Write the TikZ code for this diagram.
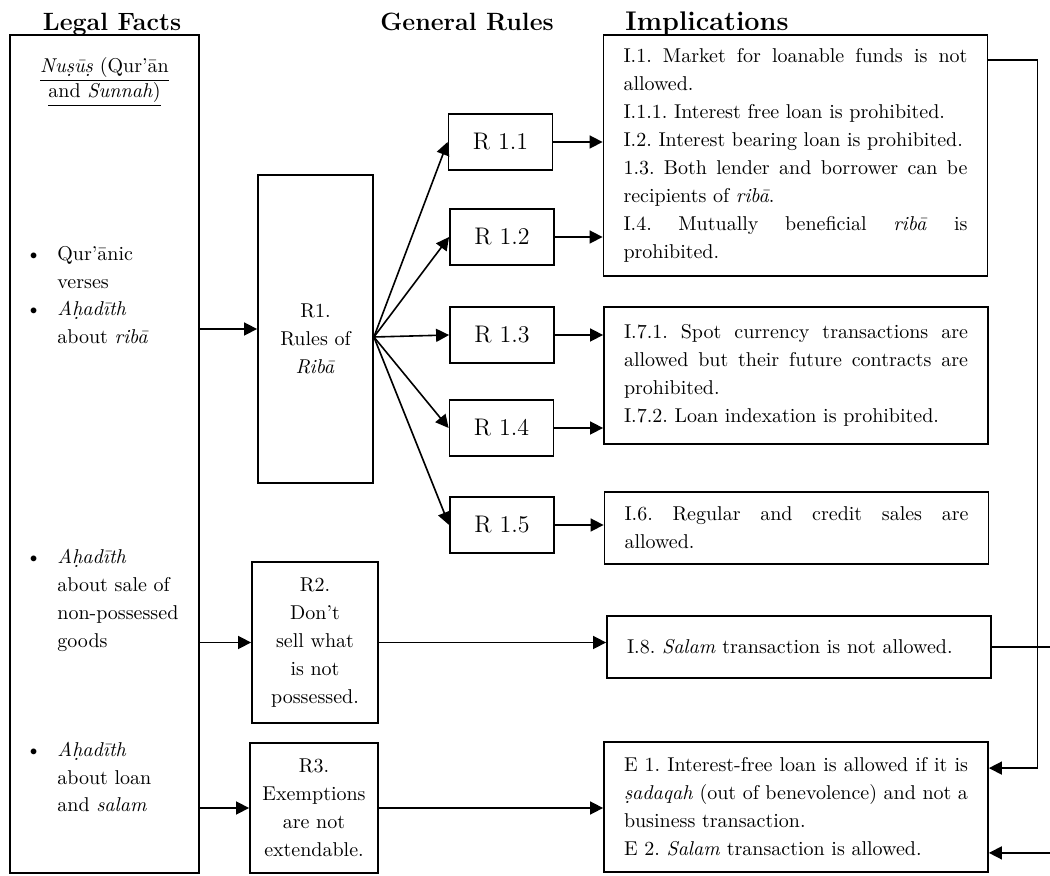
\documentclass[tikz,border=0pt]{standalone}
\usepackage{tikz}
\usetikzlibrary{arrows.meta, positioning, calc}

\newlength{\impltw}
\setlength{\impltw}{172pt}
% full-width line with stretched spaces
\newcommand{\spreadline}[1]{\makebox[\impltw][s]{\spaceskip=0pt \xspaceskip=0pt #1}}

\begin{document}
\begin{tikzpicture}[
    x=0.5pt, y=-0.5pt,
    factbox/.style={rectangle, draw=black, line width=0.9pt, minimum width=94.5pt, minimum height=419pt},
    rulebox/.style={rectangle, draw=black, line width=0.9pt, align=center, inner sep=2pt, font=\fontsize{10}{14}\selectfont\frenchspacing},
    subrule/.style={rectangle, draw=black, line width=0.9pt, minimum width=52pt, minimum height=28pt, font=\large},
    implbox/.style={rectangle, draw=black, line width=0.9pt, text width=\impltw, inner xsep=10pt, inner ysep=3pt, align=left, font=\fontsize{10}{14}\selectfont\frenchspacing},
    head/.style={anchor=base, font=\fontsize{12.5}{14}\selectfont\bfseries},
    factitem/.style={anchor=base west, text width=68pt, align=left, inner sep=0pt, font=\fontsize{10}{14}\selectfont},
    arrow/.style={-{Triangle[length=6.5pt, width=6.5pt]}, line width=0.8pt},
  ]
  \useasboundingbox (0,0) rectangle (1050,876);

  % Headings
  \node[head] (hfacts) at (112,31) {Legal Facts};
  \node[head] (hrules) at (467,31) {General Rules};
  \node[head, font=\fontsize{13.5}{15}\selectfont\bfseries] (himpl) at (707,31) {Implications};

  % Legal facts column
  \node[factbox] (facts) at (104.5,454) {};
  \node[factitem, anchor=base, text width=80pt, align=center] (nusus) at (104.5,73)
    {\underline{\textit{Nu\d{s}\=u\d{s}} (Qur'\=an}\\[-1.5pt]\underline{and \textit{Sunnah})}};
  \node[factitem] (quran) at (57,261) {\llap{\textbullet\hspace{8pt}}Qur'\=anic\\verses};
  \node[factitem] (hadriba) at (57,316) {\llap{\textbullet\hspace{8pt}}\textit{A\d{h}ad\=\i th}\\about \textit{rib\=a}};
  \node[factitem] (hadsale) at (57,564) {\llap{\textbullet\hspace{8pt}}\textit{A\d{h}ad\=\i th}\\about sale of\\non-possessed\\goods};
  \node[factitem] (hadloan) at (57,756) {\llap{\textbullet\hspace{8pt}}\textit{A\d{h}ad\=\i th}\\about loan\\and \textit{salam}};

  % General rules
  \node[rulebox, minimum width=57.5pt, minimum height=154pt, text width=53pt, text height=16.8pt] (r1) at (315.5,329) {R1.\\Rules of\\\textit{Rib\=a}};
  \node[subrule] (r11) at (500.5,142) {R 1.1};
  \node[subrule] (r12) at (502,237) {R 1.2};
  \node[subrule] (r13) at (502,335) {R 1.3};
  \node[subrule] (r14) at (501.5,428) {R 1.4};
  \node[subrule] (r15) at (502,525) {R 1.5};
  \node[rulebox, minimum width=63pt, minimum height=80.5pt] (r2) at (315,642.5) {R2.\\Don't\\sell what\\is not\\possessed.};
  \node[rulebox, minimum width=64pt, minimum height=65pt] (r3) at (314,808) {R3.\\Exemptions\\are not\\extendable.};

  % Implications
  \node[implbox, minimum height=120.5pt] (i1) at (795.5,155.5) {%
    \spreadline{I.1. Market for loanable funds is not}\\
    allowed.\\
    I.1.1. Interest free loan is prohibited.\\
    I.2. Interest bearing loan is prohibited.\\
    \spreadline{1.3. Both lender and borrower can be}\\
    recipients of \textit{rib\=a}.\\
    \spreadline{I.4. Mutually beneficial \textit{rib\=a} is}\\
    prohibited.};
  \node[implbox, minimum height=68.5pt] (i7) at (796,375.5) {%
    \spreadline{I.7.1. Spot currency transactions are}\\
    \spreadline{allowed but their future contracts are}\\
    prohibited.\\
    I.7.2. Loan indexation is prohibited.};
  \node[implbox, minimum height=36pt] (i6) at (796.5,528) {%
    \spreadline{I.6. Regular and credit sales are}\\
    allowed.};
  \node[implbox, minimum height=31pt] (i8) at (799,647) {I.8. \textit{Salam} transaction is not allowed.};
  \node[implbox, minimum height=65pt] (exempt) at (796,807) {%
    \spreadline{E 1. Interest-free loan is allowed if it is}\\
    \spreadline{\textit{\d{s}adaqah} (out of benevolence) and not a}\\
    business transaction.\\
    E 2. \textit{Salam} transaction is allowed.};

  % Facts to rules
  \draw[arrow] (facts.east |- r1.west) -- (r1.west);
  \draw[arrow] (facts.east |- r2.west) -- (r2.west);
  \draw[arrow] (facts.east |- r3.west) -- (r3.west);

  % Rules of riba fan out
  \coordinate (fan) at ($(r1.east)+(0,8)$);
  \draw[arrow] (fan) -- (r11.west);
  \draw[arrow] (fan) -- (r12.west);
  \draw[arrow] (fan) -- (r13.west);
  \draw[arrow] (fan) -- (r14.west);
  \draw[arrow] (fan) -- (r15.west);

  % Rules to implications
  \draw[arrow] (r11.east) -- (r11.east -| i1.west);
  \draw[arrow] (r12.east) -- (r12.east -| i1.west);
  \draw[arrow] (r13.east) -- (r13.east -| i7.west);
  \draw[arrow] (r14.east) -- (r14.east -| i7.west);
  \draw[arrow] (r15.east) -- (r15.east -| i6.west);
  \draw[arrow] (r2.east) -- (r2.east -| i8.west);
  \draw[arrow] (r3.east) -- (r3.east -| exempt.west);

  % Exemptions fed back
  \draw[arrow] ($(i1.north east)+(0,26)$) -- ++(49,0) |- ($(exempt.north east)+(0,27)$);
  \draw[arrow] (i8.east) -- ++(90,0) |- ($(exempt.south east)+(0,-20)$);

\end{tikzpicture}
\end{document}
